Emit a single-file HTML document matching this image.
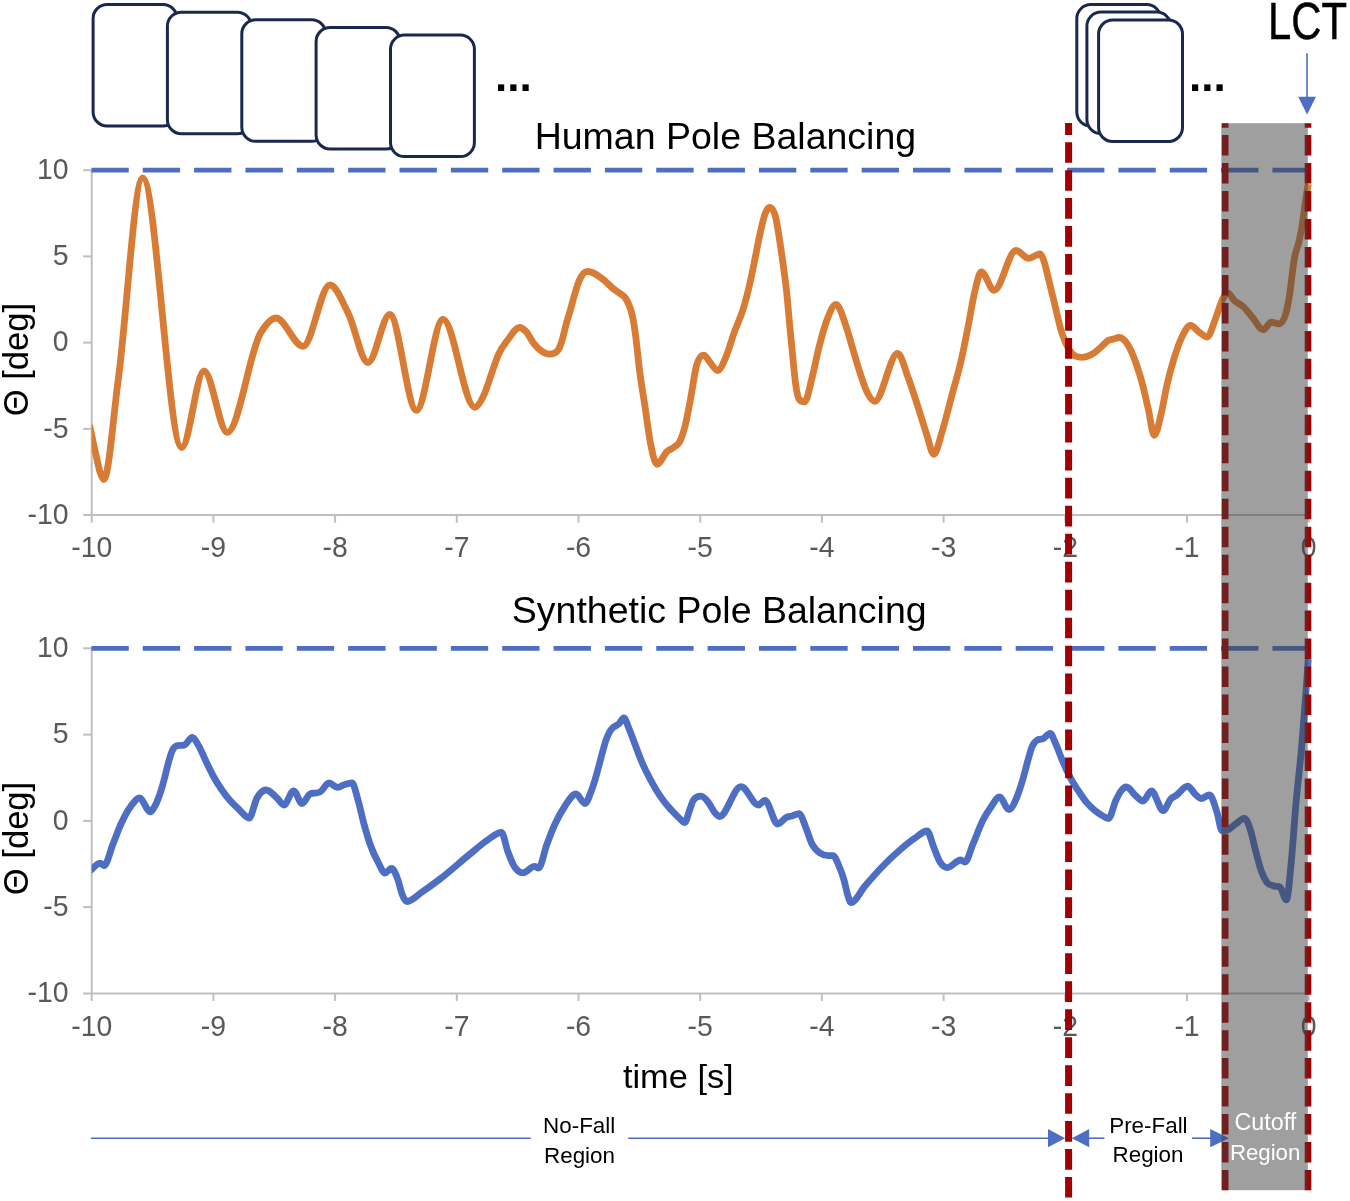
<!DOCTYPE html><html><head><meta charset="utf-8"><title>Pole Balancing</title>
<style>html,body{margin:0;padding:0;background:#fff;}body{width:1350px;height:1201px;overflow:hidden;}svg{display:block;}text{font-family:'Liberation Sans', Arial, sans-serif;}</style>
</head><body>
<svg width="1350" height="1201" viewBox="0 0 1350 1201">
<rect width="1350" height="1201" fill="#fff"/>
<defs><clipPath id="pa"><rect x="91.6" y="0" width="1240" height="1201"/></clipPath></defs>
<rect x="93.1" y="4.5" width="83.9" height="121.5" rx="14" fill="#fff" stroke="#1A2850" stroke-width="3.0"/>
<rect x="167.4" y="12.2" width="83.9" height="121.5" rx="14" fill="#fff" stroke="#1A2850" stroke-width="3.0"/>
<rect x="241.8" y="19.8" width="83.9" height="121.5" rx="14" fill="#fff" stroke="#1A2850" stroke-width="3.0"/>
<rect x="316.1" y="27.5" width="83.9" height="121.5" rx="14" fill="#fff" stroke="#1A2850" stroke-width="3.0"/>
<rect x="390.5" y="35.1" width="83.9" height="121.5" rx="14" fill="#fff" stroke="#1A2850" stroke-width="3.0"/>
<rect x="1076.8" y="4.6" width="83.9" height="121.5" rx="14" fill="#fff" stroke="#1A2850" stroke-width="3.0"/>
<rect x="1086.9" y="12.1" width="83.9" height="121.5" rx="14" fill="#fff" stroke="#1A2850" stroke-width="3.0"/>
<rect x="1098.6" y="20" width="83.9" height="121.5" rx="14" fill="#fff" stroke="#1A2850" stroke-width="3.0"/>
<text x="495" y="90.5" font-size="44" font-weight="bold" fill="#000">...</text>
<text x="1189" y="90.5" font-size="44" font-weight="bold" fill="#000">...</text>
<text x="1268" y="38.9" font-size="51.6" fill="#000" stroke="#000" stroke-width="0.5" textLength="79" lengthAdjust="spacingAndGlyphs">LCT</text>
<line x1="1307" y1="53.3" x2="1307" y2="98" stroke="#4D6EC2" stroke-width="1.6"/>
<path d="M1298.2 96.7 L1316 96.7 L1307.1 114.4 Z" fill="#4D6EC2"/>
<text x="725.4" y="148.8" font-size="37.5" fill="#000" text-anchor="middle">Human Pole Balancing</text><line x1="91.7" y1="170.2" x2="91.7" y2="522.6" stroke="#BFBFBF" stroke-width="2"/><line x1="83.2" y1="515.1" x2="1308.7" y2="515.1" stroke="#BFBFBF" stroke-width="2"/><line x1="83.2" y1="170.2" x2="91.7" y2="170.2" stroke="#BFBFBF" stroke-width="2"/><line x1="83.2" y1="256.4" x2="91.7" y2="256.4" stroke="#BFBFBF" stroke-width="2"/><line x1="83.2" y1="342.6" x2="91.7" y2="342.6" stroke="#BFBFBF" stroke-width="2"/><line x1="83.2" y1="428.9" x2="91.7" y2="428.9" stroke="#BFBFBF" stroke-width="2"/><line x1="213.4" y1="515.1" x2="213.4" y2="522.6" stroke="#BFBFBF" stroke-width="2"/><line x1="335.1" y1="515.1" x2="335.1" y2="522.6" stroke="#BFBFBF" stroke-width="2"/><line x1="456.8" y1="515.1" x2="456.8" y2="522.6" stroke="#BFBFBF" stroke-width="2"/><line x1="578.5" y1="515.1" x2="578.5" y2="522.6" stroke="#BFBFBF" stroke-width="2"/><line x1="700.2" y1="515.1" x2="700.2" y2="522.6" stroke="#BFBFBF" stroke-width="2"/><line x1="821.9" y1="515.1" x2="821.9" y2="522.6" stroke="#BFBFBF" stroke-width="2"/><line x1="943.6" y1="515.1" x2="943.6" y2="522.6" stroke="#BFBFBF" stroke-width="2"/><line x1="1065.3" y1="515.1" x2="1065.3" y2="522.6" stroke="#BFBFBF" stroke-width="2"/><line x1="1187" y1="515.1" x2="1187" y2="522.6" stroke="#BFBFBF" stroke-width="2"/><line x1="1308.7" y1="515.1" x2="1308.7" y2="522.6" stroke="#BFBFBF" stroke-width="2"/><text transform="translate(68.5 178.8) scale(1 1.06)" font-size="28.4" fill="#595959" text-anchor="end">10</text><text transform="translate(68.5 265) scale(1 1.06)" font-size="28.4" fill="#595959" text-anchor="end">5</text><text transform="translate(68.5 351.2) scale(1 1.06)" font-size="28.4" fill="#595959" text-anchor="end">0</text><text transform="translate(68.5 437.5) scale(1 1.06)" font-size="28.4" fill="#595959" text-anchor="end">-5</text><text transform="translate(68.5 523.7) scale(1 1.06)" font-size="28.4" fill="#595959" text-anchor="end">-10</text><text transform="translate(91.7 557.3) scale(1 1.06)" font-size="28.4" fill="#595959" text-anchor="middle">-10</text><text transform="translate(213.4 557.3) scale(1 1.06)" font-size="28.4" fill="#595959" text-anchor="middle">-9</text><text transform="translate(335.1 557.3) scale(1 1.06)" font-size="28.4" fill="#595959" text-anchor="middle">-8</text><text transform="translate(456.8 557.3) scale(1 1.06)" font-size="28.4" fill="#595959" text-anchor="middle">-7</text><text transform="translate(578.5 557.3) scale(1 1.06)" font-size="28.4" fill="#595959" text-anchor="middle">-6</text><text transform="translate(700.2 557.3) scale(1 1.06)" font-size="28.4" fill="#595959" text-anchor="middle">-5</text><text transform="translate(821.9 557.3) scale(1 1.06)" font-size="28.4" fill="#595959" text-anchor="middle">-4</text><text transform="translate(943.6 557.3) scale(1 1.06)" font-size="28.4" fill="#595959" text-anchor="middle">-3</text><text transform="translate(1065.3 557.3) scale(1 1.06)" font-size="28.4" fill="#595959" text-anchor="middle">-2</text><text transform="translate(1187 557.3) scale(1 1.06)" font-size="28.4" fill="#595959" text-anchor="middle">-1</text><text transform="translate(1308.7 557.3) scale(1 1.06)" font-size="28.4" fill="#595959" text-anchor="middle">0</text><text transform="translate(27.5 359.6) rotate(-90)" font-size="34.6" fill="#000" text-anchor="middle">&#920; [deg]</text><line x1="91.4" y1="170.2" x2="1308.7" y2="170.2" stroke="#4D6EC2" stroke-width="4.67" stroke-dasharray="37.35 14"/><path clip-path="url(#pa)" d="M89.5 425.1C90.2 428.3 90.9 431.6 91.6 434.8C93.1 441.6 94.5 448.5 96 455C97.3 460.9 98.7 467.9 100 472C101.2 475.9 102.5 479.5 103.8 479.5C108.6 479.5 113.4 415.6 118.2 380C126.4 319.6 134.5 177.8 142.7 177.8C155.7 177.8 168.7 447.5 181.7 447.5C189.1 447.5 196.6 371 204 371C211.8 371 219.5 432.4 227.3 432.4C238.5 432.4 249.6 350.4 260.8 332.6C265.9 324.5 270.9 318 276 318C285 318 294 346.3 303 346.3C312 346.3 320.9 285 329.9 285C336 285 342.2 301.1 348.3 313.4C354.9 326.5 361.4 362.5 368 362.5C375.3 362.5 382.5 314.5 389.8 314.5C398.7 314.5 407.5 410.3 416.4 410.3C425.3 410.3 434.1 319.4 443 319.4C453.6 319.4 464.2 407.3 474.8 407.3C477.9 407.3 481.1 401.3 484.2 394.4C486.5 389.3 488.9 381.2 491.2 374.6C493.6 368 495.9 360.2 498.3 354.8C501.6 347.3 504.9 343.6 508.2 339.2C512 334.2 515.7 327.5 519.5 327.5C521.9 327.5 524.2 329.5 526.6 332.1C529 334.8 531.3 340.3 533.7 343.4C536.1 346.5 538.4 348.7 540.8 350.5C543.6 352.6 546.5 354.2 549.3 354.2C552.1 354.2 555 354.2 557.8 350.5C559.2 348.7 560.6 345 562 340.6C563.4 336.1 564.9 328.8 566.3 323.6C567.7 318.5 569.1 314.4 570.5 309.5C571.9 304.5 573.4 298.7 574.8 293.9C576.2 289.2 577.6 284.5 579 281.1C581.8 274.2 584.7 271.3 587.5 271.3C593.3 271.3 599.2 276.2 605 281C607.7 283.2 610.3 286.3 613 288.5C615.3 290.4 617.7 291.7 620 293.5C621.7 294.8 623.3 295.2 625 297.5C626.3 299.4 627.7 301.6 629 305C630.1 307.7 631.1 310.2 632.2 315C633.4 320.4 634.6 328 635.8 337C637 346.2 638.3 360.1 639.5 370C641.3 384.7 643.2 394.4 645 406.6C646.8 418.8 648.7 434 650.5 443.3C652.7 454.3 654.8 464.3 657 464.3C660.3 464.3 663.7 454.5 667 451.5C669.4 449.3 671.9 449 674.3 447C676.1 445.5 678 445.2 679.8 441.5C681.6 437.8 683.5 432.3 685.3 425C687.1 417.7 689 407.3 690.8 397.5C692.6 387.7 694.5 373.4 696.3 366.3C698.8 356.7 701.2 355.2 703.7 355.2C705.9 355.2 708 360.1 710.2 362.5C712.6 365.2 715.1 370.5 717.5 370.5C720.6 370.5 723.6 362.4 726.7 355C729.1 349.1 731.6 339.9 734 333C737.1 324.3 740.1 319.1 743.2 309C745 303.1 746.8 296.5 748.6 289C750.4 281.3 752.3 272.2 754.1 263.3C755.9 254.4 757.8 244.1 759.6 235.8C761.4 227.6 763.3 218.5 765.1 213.8C766.6 209.8 768.2 207.4 769.7 207.4C771.8 207.4 774 209.8 776.1 219.3C777.3 224.8 778.6 233.4 779.8 241.3C781 249.3 782.3 257.7 783.5 267C784.7 276.1 785.9 284.5 787.1 296.3C788 305.5 789 317.6 789.9 327.5C790.8 337.1 791.7 346 792.6 355C793.5 364.3 794.5 375.4 795.4 382.4C796.6 391.4 797.8 397.2 799 399C800.9 401.8 802.8 401.8 804.7 401.8C807.1 401.8 809.5 387.4 811.9 378.3C814.3 369.1 816.7 356.3 819.1 346.9C821.5 337.4 824 328.2 826.4 321.5C829.6 312.7 832.8 304.5 836 304.5C839.2 304.5 842.5 316 845.7 325.2C848.1 332 850.5 341.3 852.9 349.3C855.3 357.4 857.8 366.1 860.2 373.4C862.6 380.6 865 388.2 867.4 392.8C869.8 397.5 872.3 401.3 874.7 401.3C882.3 401.3 890 353.5 897.6 353.5C901.2 353.5 904.8 368.7 908.4 378.3C911.6 386.9 914.9 397.2 918.1 407.2C920.9 415.8 923.7 425.5 926.5 433.8C928.9 441 931.4 454.3 933.8 454.3C936.6 454.3 939.4 440.3 942.2 431.4C945.4 421.1 948.7 407.3 951.9 395.2C955.1 383.2 958.3 373.2 961.5 359C963.9 348.2 966.4 335.2 968.8 322.8C970.8 312.6 972.8 299.7 974.8 291.4C977 282.4 979.1 272 981.3 272C985.6 272 989.8 290.3 994.1 290.3C1001.4 290.3 1008.7 250.5 1016 250.5C1020.3 250.5 1024.5 258.4 1028.8 258.4C1032.5 258.4 1036.1 254 1039.8 254C1043.9 254 1048.1 278.9 1052.2 294.1C1055.4 305.8 1058.6 322.8 1061.8 332.6C1064.1 339.6 1066.4 344.9 1068.7 349C1073.3 357.2 1077.9 357.3 1082.5 357.3C1085.5 357.3 1088.6 356.2 1091.6 354.6C1094.7 352.9 1097.7 350 1100.8 347.3C1103.2 345.2 1105.7 341.9 1108.1 340.5C1109.9 339.5 1111.8 339.5 1113.6 339C1115.4 338.5 1117.3 337.5 1119.1 337.5C1122.2 337.5 1125.2 340.3 1128.3 345.4C1130.7 349.4 1133.2 355.3 1135.6 362C1138 368.7 1140.5 376.4 1142.9 385.8C1144.7 392.9 1146.6 401.6 1148.4 409.6C1150.3 418.1 1152.3 435.3 1154.2 435.3C1156.6 435.3 1158.9 423.2 1161.3 413.3C1163.1 405.7 1165 394 1166.8 385.8C1169.2 374.9 1171.7 366.2 1174.1 358.3C1176.5 350.3 1179 343.3 1181.4 338.1C1184.5 331.5 1187.5 325.5 1190.6 325.5C1193.6 325.5 1196.7 330.5 1199.7 332.6C1202.2 334.3 1204.6 337 1207.1 337C1209.9 337 1212.7 325.8 1215.5 318.8C1217.8 313 1220.1 304.1 1222.4 299.6C1224.1 296.3 1225.7 292.7 1227.4 292.7C1229.9 292.7 1232.3 298.8 1234.8 301C1237.5 303.5 1240.3 304.1 1243 306.5C1246.2 309.3 1249.4 313.8 1252.6 317.5C1256.1 321.6 1259.6 329.8 1263.1 329.8C1265.8 329.8 1268.6 322.1 1271.3 322.1C1273.8 322.1 1276.2 323.8 1278.7 323.8C1281.4 323.8 1284.2 321.6 1286.9 309.3C1287.9 304.8 1288.9 299.8 1289.9 292.8C1290.6 287.7 1291.4 280.5 1292.1 274.9C1292.9 269 1293.6 263 1294.4 258.4C1295.9 249.4 1297.4 248.7 1298.9 241.9C1300.1 236.3 1301.4 230.6 1302.6 222.4C1303.4 217.3 1304.1 210.4 1304.9 205C1305.6 200.3 1306.2 196 1306.9 192C1307.4 189.2 1307.8 186.5 1308.3 184" fill="none" stroke="#D87B35" stroke-width="6.8" stroke-linejoin="round" stroke-linecap="butt"/>
<text x="719.2" y="622.7" font-size="37.5" fill="#000" text-anchor="middle">Synthetic Pole Balancing</text><line x1="91.7" y1="648.3" x2="91.7" y2="1000.9" stroke="#BFBFBF" stroke-width="2"/><line x1="83.2" y1="993.4" x2="1308.7" y2="993.4" stroke="#BFBFBF" stroke-width="2"/><line x1="83.2" y1="648.3" x2="91.7" y2="648.3" stroke="#BFBFBF" stroke-width="2"/><line x1="83.2" y1="734.6" x2="91.7" y2="734.6" stroke="#BFBFBF" stroke-width="2"/><line x1="83.2" y1="820.9" x2="91.7" y2="820.9" stroke="#BFBFBF" stroke-width="2"/><line x1="83.2" y1="907.1" x2="91.7" y2="907.1" stroke="#BFBFBF" stroke-width="2"/><line x1="213.4" y1="993.4" x2="213.4" y2="1000.9" stroke="#BFBFBF" stroke-width="2"/><line x1="335.1" y1="993.4" x2="335.1" y2="1000.9" stroke="#BFBFBF" stroke-width="2"/><line x1="456.8" y1="993.4" x2="456.8" y2="1000.9" stroke="#BFBFBF" stroke-width="2"/><line x1="578.5" y1="993.4" x2="578.5" y2="1000.9" stroke="#BFBFBF" stroke-width="2"/><line x1="700.2" y1="993.4" x2="700.2" y2="1000.9" stroke="#BFBFBF" stroke-width="2"/><line x1="821.9" y1="993.4" x2="821.9" y2="1000.9" stroke="#BFBFBF" stroke-width="2"/><line x1="943.6" y1="993.4" x2="943.6" y2="1000.9" stroke="#BFBFBF" stroke-width="2"/><line x1="1065.3" y1="993.4" x2="1065.3" y2="1000.9" stroke="#BFBFBF" stroke-width="2"/><line x1="1187" y1="993.4" x2="1187" y2="1000.9" stroke="#BFBFBF" stroke-width="2"/><line x1="1308.7" y1="993.4" x2="1308.7" y2="1000.9" stroke="#BFBFBF" stroke-width="2"/><text transform="translate(68.5 656.9) scale(1 1.06)" font-size="28.4" fill="#595959" text-anchor="end">10</text><text transform="translate(68.5 743.2) scale(1 1.06)" font-size="28.4" fill="#595959" text-anchor="end">5</text><text transform="translate(68.5 829.5) scale(1 1.06)" font-size="28.4" fill="#595959" text-anchor="end">0</text><text transform="translate(68.5 915.7) scale(1 1.06)" font-size="28.4" fill="#595959" text-anchor="end">-5</text><text transform="translate(68.5 1002) scale(1 1.06)" font-size="28.4" fill="#595959" text-anchor="end">-10</text><text transform="translate(91.7 1035.6) scale(1 1.06)" font-size="28.4" fill="#595959" text-anchor="middle">-10</text><text transform="translate(213.4 1035.6) scale(1 1.06)" font-size="28.4" fill="#595959" text-anchor="middle">-9</text><text transform="translate(335.1 1035.6) scale(1 1.06)" font-size="28.4" fill="#595959" text-anchor="middle">-8</text><text transform="translate(456.8 1035.6) scale(1 1.06)" font-size="28.4" fill="#595959" text-anchor="middle">-7</text><text transform="translate(578.5 1035.6) scale(1 1.06)" font-size="28.4" fill="#595959" text-anchor="middle">-6</text><text transform="translate(700.2 1035.6) scale(1 1.06)" font-size="28.4" fill="#595959" text-anchor="middle">-5</text><text transform="translate(821.9 1035.6) scale(1 1.06)" font-size="28.4" fill="#595959" text-anchor="middle">-4</text><text transform="translate(943.6 1035.6) scale(1 1.06)" font-size="28.4" fill="#595959" text-anchor="middle">-3</text><text transform="translate(1065.3 1035.6) scale(1 1.06)" font-size="28.4" fill="#595959" text-anchor="middle">-2</text><text transform="translate(1187 1035.6) scale(1 1.06)" font-size="28.4" fill="#595959" text-anchor="middle">-1</text><text transform="translate(1308.7 1035.6) scale(1 1.06)" font-size="28.4" fill="#595959" text-anchor="middle">0</text><text transform="translate(27.5 838.5) rotate(-90)" font-size="34.6" fill="#000" text-anchor="middle">&#920; [deg]</text><line x1="91.4" y1="648.3" x2="1308.7" y2="648.3" stroke="#4D6EC2" stroke-width="4.67" stroke-dasharray="37.35 14"/><path clip-path="url(#pa)" d="M89.5 871C90.2 870.4 90.9 869.9 91.6 869.3C94.5 867 97.3 863.2 100.2 863.2C101.5 863.2 102.7 865.7 104 865.7C107 865.7 110 851.4 113 844C115.7 837.4 118.3 829.8 121 824C124.3 816.7 127.7 810.5 131 806C133.8 802.2 136.6 798 139.4 798C143 798 146.7 811.8 150.3 811.8C151.3 811.8 152.4 810.1 153.4 808.6C155.5 805.6 157.6 800.7 159.7 794.6C161.2 790.2 162.8 784.7 164.3 779.1C165.9 773.3 167.4 765.7 169 760.4C170 756.9 171.1 753.4 172.1 751C173.7 747.4 175.2 746.2 176.8 745.7C179.4 744.9 181.9 745.7 184.5 744.9C187.1 744.1 189.7 737.5 192.3 737.5C194.4 737.5 196.4 742.1 198.5 745.5C201.1 749.8 203.7 756.7 206.3 762C208.9 767.3 211.5 772.8 214.1 777.5C216.7 782.2 219.3 786.2 221.9 790C224.5 793.7 227 797.1 229.6 800.1C232.7 803.8 235.9 806.5 239 809.4C242.4 812.5 245.7 818 249.1 818C251.7 818 254.4 802.6 257 798C260 792.7 263 790 266 790C269.7 790 273.3 794.7 277 798C279.3 800.1 281.7 805 284 805C287.2 805 290.4 790.8 293.6 790.8C296.4 790.8 299.2 803.5 302 803.5C304.7 803.5 307.3 795.3 310 794C312 793 314 793.4 316 793C317.3 792.7 318.7 792.6 320 792C323 790.6 326 783 329 783C331.9 783 334.7 787.4 337.6 787.4C340.1 787.4 342.5 785.1 345 784.4C347.3 783.7 349.7 783 352 783C354 783 356 793.2 358 800C360 806.8 362 816.7 364 824C366 831.3 368 838.3 370 844C372.7 851.7 375.3 857 378 862C380.3 866.4 382.7 873 385 873C387.1 873 389.3 868.4 391.4 868.4C393.6 868.4 395.8 873.7 398 880C399.3 883.8 400.7 890.5 402 894C403.7 898.4 405.3 901.5 407 901.5C412 901.5 417 895.4 422 892C428 888 434 883.6 440 879C450 871.4 460 862.1 470 854C476.3 848.9 482.7 843 489 839C493.1 836.4 497.3 832.4 501.4 832.4C503.6 832.4 505.8 846.2 508 852C510 857.3 512 862.6 514 866C517 871.1 520 872.8 523 872.8C526.9 872.8 530.7 866.4 534.6 866.4C535.9 866.4 537.3 868 538.6 868C541.4 868 544.2 851.5 547 844C549.7 836.9 552.3 829.8 555 824C558.3 816.7 561.7 810.9 565 806C568.7 800.6 572.3 794 576 794C579 794 582 803.5 585 803.5C587.1 803.5 589.1 796.5 591.2 791.2C592.5 787.9 593.7 784.2 595 780C596.2 775.9 597.5 771.1 598.7 766.5C600 761.8 601.2 756.8 602.5 752.2C603.7 747.8 605 743 606.2 739.5C607.5 735.9 608.7 733.3 610 731.2C611.2 729.2 612.5 728.2 613.7 727.1C615.5 725.5 617.2 725.3 619 723.7C620.6 722.2 622.2 718 623.8 718C625.6 718 627.4 725 629.2 729.2C631.1 733.7 633.1 739.2 635 744.3C636.9 749.3 638.9 754.8 640.8 759.5C642.7 764.2 644.7 768.3 646.6 772.3C648.6 776.3 650.5 779.9 652.5 783.4C654.4 786.9 656.4 790.3 658.3 793.3C660.2 796.3 662.2 799 664.1 801.5C666.7 805 669.4 807.9 672 810.8C674.6 813.7 677.3 816.4 679.9 818.7C681.5 820.1 683.1 822.5 684.7 822.5C686.4 822.5 688.1 814 689.8 809.6C691 806.6 692.1 802.2 693.3 800.3C695.8 796.2 698.4 796.2 700.9 796.2C703.4 796.2 706 799.3 708.5 802.6C710.4 805.1 712.4 809.6 714.3 812C716 814.1 717.8 816.5 719.5 816.5C726.7 816.5 733.8 786.6 741 786.6C746.8 786.6 752.6 805 758.4 805C760.6 805 762.8 800.4 765 800.4C769.2 800.4 773.4 824 777.6 824C780.7 824 783.9 818.2 787 817C788.7 816.4 790.3 816.4 792 816C794.3 815.4 796.7 813.6 799 813.6C801.3 813.6 803.7 822.4 806 828C808 832.8 810 840 812 844C814.7 849.3 817.3 851.1 820 853C822.7 854.9 825.3 855.6 828 855.6C829.7 855.6 831.3 855.6 833 855.6C835 855.6 837 861.4 839 866C840.7 869.9 842.3 874.2 844 880C845.3 884.6 846.7 892.1 848 896C849 899 850 902.5 851 902.5C855.7 902.5 860.3 891.4 865 886C870.3 879.8 875.7 873.6 881 868C887.7 861 894.3 854.7 901 849C905.7 845 910.3 841.2 915 838C919 835.3 923 831 927 831C929.3 831 931.7 842.5 934 848C936 852.8 938 858.7 940 862C942.5 866 944.9 867.6 947.4 867.6C951.8 867.6 956.2 860 960.6 860C962.1 860 963.5 862 965 862C967.7 862 970.3 850.2 973 844C976.3 836.3 979.7 826.6 983 820C985.7 814.7 988.3 810.8 991 807C993.8 803 996.6 797 999.4 797C1002.6 797 1005.8 809.5 1009 809.5C1011.5 809.5 1014.1 803.7 1016.6 797.8C1018.7 792.9 1020.8 786.2 1022.9 779.1C1024.4 773.9 1026 767.4 1027.5 762C1029.1 756.5 1030.6 750 1032.2 746.4C1033.8 742.8 1035.3 741.3 1036.9 740.2C1039 738.7 1041 739.7 1043.1 738.7C1045.5 737.6 1047.8 733.5 1050.2 733.5C1052 733.5 1053.7 739.5 1055.5 743.3C1057.6 747.8 1059.6 754 1061.7 758.9C1064.8 766.3 1068 773.3 1071.1 779.1C1073.7 783.9 1076.2 787.6 1078.8 791.5C1081.4 795.4 1084 799.3 1086.6 802.4C1089.2 805.5 1091.8 808 1094.4 810.2C1097 812.4 1099.6 814.1 1102.2 815.6C1104.3 816.8 1106.4 818.5 1108.5 818.5C1111 818.5 1113.5 805.2 1116 800C1117.7 796.6 1119.3 793.2 1121 791C1122.8 788.7 1124.6 787 1126.4 787C1129.6 787 1132.8 793.4 1136 796C1138.3 797.9 1140.7 801 1143 801C1145.8 801 1148.6 791 1151.4 791C1155.3 791 1159.3 810.6 1163.2 810.6C1165.8 810.6 1168.4 801.2 1171 798.7C1172.7 797.1 1174.3 796.7 1176 795.6C1179.9 793 1183.8 786.2 1187.7 786.2C1190.1 786.2 1192.6 791.8 1195 794C1197 795.8 1199 798.5 1201 798.5C1203.8 798.5 1206.7 795 1209.5 795C1212 795 1214.5 804.7 1217 812.5C1218.7 817.7 1220.3 830.7 1222 830.7C1223.8 830.7 1225.6 830.7 1227.4 830C1230.1 829 1232.9 825.9 1235.6 824C1238.5 822 1241.5 818.3 1244.4 818.3C1246.5 818.3 1248.6 824.4 1250.7 831C1252.3 835.9 1253.8 843.8 1255.4 849.8C1257.3 857.2 1259.3 865.4 1261.2 870.8C1263.1 876.2 1265.1 879.8 1267 882.4C1269.3 885.5 1271.7 885.2 1274 886C1276 886.7 1277.9 886 1279.9 887.1C1282.1 888.3 1284.2 899.9 1286.4 899.9C1288 899.9 1289.7 878 1291.3 861.4C1292.9 845.5 1294.4 821 1296 803.2C1297.9 781.3 1299.9 767.4 1301.8 744.9C1303.2 728.6 1304.6 710.3 1306 691.3C1306.8 680.9 1307.5 670.1 1308.3 659" fill="none" stroke="#4D6EC2" stroke-width="6.8" stroke-linejoin="round" stroke-linecap="butt"/>
<text transform="translate(678.3 1087.6) scale(1.048 1)" font-size="32.8" fill="#000" text-anchor="middle">time [s]</text>
<line x1="1068.6" y1="122.9" x2="1068.6" y2="1197.6" stroke="#A00000" stroke-width="7" stroke-dasharray="20.7 7.27" stroke-dashoffset="8.7"/>
<line x1="90.9" y1="1138.2" x2="530.7" y2="1138.2" stroke="#4D6EC2" stroke-width="1.6"/>
<line x1="628.2" y1="1138.2" x2="1050" y2="1138.2" stroke="#4D6EC2" stroke-width="1.6"/>
<path d="M1048 1129.1 L1065.2 1138.2 L1048 1147.3 Z" fill="#4D6EC2"/>
<path d="M1089.2 1129.1 L1071.8 1138.2 L1089.2 1147.3 Z" fill="#4D6EC2"/>
<line x1="1088" y1="1138.2" x2="1104.4" y2="1138.2" stroke="#4D6EC2" stroke-width="1.6"/>
<line x1="1191.9" y1="1138.2" x2="1212" y2="1138.2" stroke="#4D6EC2" stroke-width="1.6"/>
<path d="M1210.2 1129.1 L1229 1138.2 L1210.2 1147.3 Z" fill="#4D6EC2"/>
<text x="579.2" y="1132.9" font-size="22.4" fill="#000" text-anchor="middle">No-Fall</text>
<text x="579.5" y="1163.3" font-size="22.4" fill="#000" text-anchor="middle">Region</text>
<text x="1148.4" y="1132.8" font-size="22.4" fill="#000" text-anchor="middle">Pre-Fall</text>
<text x="1148" y="1162.1" font-size="22.4" fill="#000" text-anchor="middle">Region</text>
<line x1="1225.2" y1="123.2" x2="1225.2" y2="1190.2" stroke="#A00000" stroke-width="6.6" stroke-dasharray="20.5 7.47" stroke-dashoffset="16.06"/>
<line x1="1308.0" y1="123.2" x2="1308.0" y2="1190.2" stroke="#A00000" stroke-width="6.6" stroke-dasharray="20.5 7.47" stroke-dashoffset="16.06"/>
<rect x="1221.3" y="123.2" width="86.5" height="1067" fill="rgb(64,64,64)" fill-opacity="0.5"/>
<text x="1265.4" y="1130.3" font-size="23.3" fill="#FFFFFF" text-anchor="middle">Cutoff</text>
<text x="1265.1" y="1159.7" font-size="22.2" fill="#FFFFFF" text-anchor="middle">Region</text>
</svg></body></html>
